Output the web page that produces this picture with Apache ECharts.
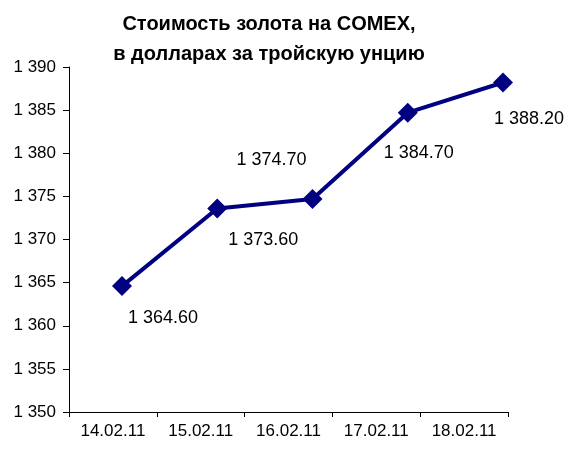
<!DOCTYPE html>
<html>
<head>
<meta charset="utf-8" />
<title>Стоимость золота на COMEX</title>
<script src="https://cdn.jsdelivr.net/npm/echarts@6/dist/echarts.min.js"></script>
<style>
	* { margin: 0; padding: 0; }
	html, body { background: #fff; }
	#main { width: 567px; height: 449px; }
</style>
</head>
<body>
<div id="main"></div>
<script>
	// данные
	var dates = ['14.02.11', '15.02.11', '16.02.11', '17.02.11', '18.02.11'];
	var prices = [1364.60, 1373.60, 1374.70, 1384.70, 1388.20];
	var yMin = 1350, yMax = 1390, yStep = 5;

	// смещения подписей относительно маркеров
	var labelShift = [[41, 32], [46, 32], [-41, -39], [11, 40], [26, 37]];

	var font = '"Liberation Sans", Arial, sans-serif';

	// 1388.2 -> "1 388.20"
	function fmt(v, dec) {
		var s = v.toFixed(dec);
		var parts = s.split('.');
		var ip = parts[0].replace(/\B(?=(\d{3})+(?!\d))/g, ' ');
		return parts.length > 1 ? ip + '.' + parts[1] : ip;
	}

	var seriesData = prices.map(function (p, i) {
		return {
			value: p,
			label: { offset: labelShift[i] }
		};
	});

	var myChart = echarts.init(document.getElementById('main'));
	myChart.setOption({
		animation: false,
		title: {
			text: 'Стоимость золота на COMEX,\nв долларах за тройскую унцию',
			left: 264,
			top: 4,
			textAlign: 'center',
			textStyle: {
				fontFamily: font,
				fontSize: 20,
				fontWeight: 'bold',
				color: '#000',
				lineHeight: 30
			}
		},
		grid: [
			{ left: 69, right: 59, top: 67, bottom: 37 },
			{ left: 122, right: 64, top: 67, bottom: 37 }
		],
		xAxis: [{
			gridIndex: 0,
			type: 'category',
			data: dates,
			boundaryGap: true,
			axisLine: { lineStyle: { color: '#000', width: 1 } },
			axisTick: { show: true, length: 5, lineStyle: { color: '#000' } },
			axisLabel: { color: '#000', fontFamily: font, fontSize: 17, margin: 11 },
			splitLine: { show: false }
		}, {
			gridIndex: 1,
			type: 'category',
			data: dates,
			boundaryGap: false,
			show: false
		}],
		yAxis: [{
			gridIndex: 0,
			type: 'value',
			min: yMin,
			max: yMax,
			interval: yStep,
			axisLine: { show: true, lineStyle: { color: '#000', width: 1 } },
			axisTick: { show: true, length: 6, lineStyle: { color: '#000' } },
			axisLabel: {
				color: '#000', fontFamily: font, fontSize: 17, margin: 13,
				formatter: function (v) { return fmt(v, 0); }
			},
			splitLine: { show: false }
		}, {
			gridIndex: 1,
			type: 'value',
			min: yMin,
			max: yMax,
			show: false,
			splitLine: { show: false }
		}],
		series: [{
			type: 'line',
			xAxisIndex: 1,
			yAxisIndex: 1,
			data: seriesData,
			symbol: 'diamond',
			symbolSize: 20,
			lineStyle: { color: '#000080', width: 4 },
			itemStyle: { color: '#000080' },
			label: {
				show: true,
				position: 'inside',
				color: '#000',
				fontFamily: font,
				fontSize: 18,
				formatter: function (p) { return fmt(p.value, 2); }
			}
		}]
	});
</script>
</body>
</html>
